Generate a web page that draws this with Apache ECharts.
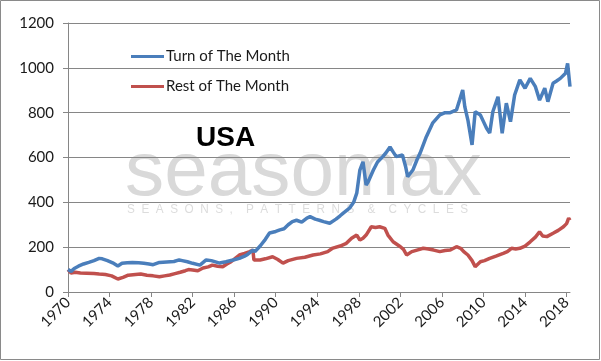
<!DOCTYPE html>
<html>
<head>
<meta charset="utf-8">
<script src="https://cdn.jsdelivr.net/npm/echarts@6/dist/echarts.min.js"></script>
<style>
html,body{margin:0;padding:0;background:#fff;}
#chart{width:601px;height:361px;}
</style>
</head>
<body>
<div id="chart"></div>
<script>
var seriesNames = ['Turn of The Month', 'Rest of The Month'];
var yearTicks = [1970, 1974, 1978, 1982, 1986, 1990, 1994, 1998, 2002, 2006, 2010, 2014, 2018];
var yTicks = [0, 200, 400, 600, 800, 1000, 1200];

var turnYears = [1970.0,1970.3,1970.6,1971.0,1971.5,1972.0,1972.5,1973.0,1973.3,1973.8,1974.3,1974.8,1975.2,1975.7,1976.2,1976.8,1977.3,1977.8,1978.2,1978.8,1979.5,1980.2,1980.7,1981.0,1981.5,1982.0,1982.7,1983.3,1983.8,1984.6,1985.2,1985.9,1986.5,1987.0,1987.2,1987.8,1988.0,1988.5,1989.0,1989.4,1990.0,1990.4,1990.8,1991.2,1991.6,1992.0,1992.5,1993.0,1993.3,1993.8,1994.2,1994.6,1995.2,1995.8,1996.2,1996.5,1997.1,1997.5,1997.8,1998.1,1998.4,1998.7,1998.9,1999.4,1999.8,2000.3,2000.6,2001.0,2001.3,2001.6,2002.2,2002.5,2002.7,2003.2,2003.6,2003.9,2004.5,2005.1,2005.8,2006.3,2006.8,2007.4,2007.7,2008.0,2008.2,2008.5,2008.9,2009.2,2009.7,2010.0,2010.3,2010.6,2010.9,2011.4,2011.8,2012.2,2012.6,2013.0,2013.5,2014.0,2014.5,2015.0,2015.4,2015.9,2016.2,2016.7,2017.0,2017.4,2017.9,2018.1,2018.33];
var turnValues = [100,92,105,115,125,132,140,150,148,140,130,116,128,130,132,130,128,125,122,132,134,136,143,140,135,128,120,143,140,129,135,143,150,160,165,187,180,205,235,263,270,277,282,300,314,320,312,330,336,325,320,314,307,325,340,352,374,400,441,544,581,477,492,544,580,604,620,647,625,604,611,560,514,544,590,620,693,753,790,800,800,812,856,901,827,767,656,804,790,760,730,709,804,871,708,842,760,879,946,909,953,916,856,909,849,931,940,953,976,1020,916];

var restYears = [1970.0,1970.3,1970.7,1971.2,1971.8,1972.5,1973.0,1973.6,1974.2,1974.8,1975.3,1975.8,1976.5,1977.0,1977.6,1978.2,1978.8,1979.3,1979.8,1980.3,1980.8,1981.3,1981.6,1982.0,1982.5,1983.0,1983.5,1983.9,1984.4,1984.9,1985.3,1985.7,1986.1,1986.5,1987.0,1987.5,1987.8,1987.9,1988.5,1989.0,1989.7,1990.2,1990.7,1991.2,1992.0,1992.8,1993.6,1994.3,1995.0,1995.5,1996.2,1996.8,1997.3,1997.8,1998.1,1998.4,1998.7,1999.2,1999.6,2000.0,2000.5,2000.8,2001.3,2002.0,2002.3,2002.6,2003.1,2003.6,2004.2,2004.7,2005.2,2005.8,2006.3,2006.8,2007.4,2007.8,2008.1,2008.5,2008.9,2009.2,2009.7,2010.1,2010.6,2011.2,2011.9,2012.3,2012.7,2013.1,2013.5,2014.0,2014.5,2015.0,2015.4,2015.7,2016.1,2016.7,2017.2,2017.7,2018.0,2018.2,2018.33];
var restValues = [100,85,88,85,84,82,80,78,72,58,65,75,78,80,75,72,68,72,76,82,88,95,100,98,95,107,112,120,115,113,125,135,150,165,172,180,187,143,143,148,157,145,129,140,150,155,165,170,180,196,205,217,240,254,232,240,254,291,288,291,284,254,224,202,190,165,180,187,195,192,187,180,185,187,202,195,180,165,140,113,135,140,150,160,172,180,195,192,195,205,224,245,269,250,247,262,275,291,305,329,320];

function pairs(xs, ys) {
  var out = [];
  for (var i = 0; i < xs.length; i++) out.push([xs[i], ys[i]]);
  return out;
}

var chart = echarts.init(document.getElementById('chart'));
var axisGray = '#868686';
var fontFam = 'Lato, "Liberation Sans", sans-serif';

chart.setOption({
  animation: false,
  backgroundColor: '#fff',
  grid: { left: 68, right: 31, top: 23, bottom: 69, containLabel: false },
  legend: {
    data: seriesNames,
    orient: 'vertical',
    left: 126,
    top: 44,
    icon: 'rect',
    itemWidth: 33,
    itemHeight: 3,
    itemGap: 15,
    textStyle: { fontFamily: fontFam, fontSize: 15, color: '#1a1a1a', padding: [0, 0, 0, -3] }
  },
  xAxis: {
    type: 'value',
    min: 1970,
    max: 2018.33,
    interval: 4,
    axisLine: { lineStyle: { color: axisGray, width: 1 } },
    axisTick: { show: true, length: 5, lineStyle: { color: axisGray }, customValues: yearTicks },
    axisLabel: { rotate: 45, margin: 8, fontFamily: fontFam, fontSize: 15, color: '#1a1a1a', customValues: yearTicks, formatter: function (v) { return String(v); } },
    splitLine: { show: false }
  },
  yAxis: {
    type: 'value',
    min: 0,
    max: 1200,
    interval: 200,
    axisLine: { show: true, lineStyle: { color: axisGray, width: 1 } },
    axisTick: { show: true, length: 5, lineStyle: { color: axisGray } },
    axisLabel: { margin: 14, fontFamily: fontFam, fontSize: 15, color: '#1a1a1a', formatter: function (v) { return String(v); } },
    splitLine: { show: true, lineStyle: { color: axisGray, width: 1 } }
  },
  graphic: [
    { type: 'rect', z: 100, silent: true, shape: { x: 0.5, y: 0.5, width: 599, height: 359 }, style: { fill: 'none', stroke: '#8a8a8a', lineWidth: 1 } },
    { type: 'text', z: -1, silent: true, x: 125, y: 136, scaleX: 0.955, scaleY: 0.92, style: { text: 'seasomax', fontFamily: '"Liberation Sans", Arial, sans-serif', fontSize: 82, fill: '#d9d9d9', textVerticalAlign: 'top' } },
    { type: 'text', z: -1, silent: true, x: 127, y: 204, scaleX: 0.98, style: { text: 'S  E  A  S  O  N  S  ,    P  A  T  T  E  R  N  S    &    C  Y  C  L  E  S', fontFamily: '"Liberation Sans", Arial, sans-serif', fontSize: 12, fill: '#dcdcdc' } },
    { type: 'text', z: 50, silent: true, x: 196, y: 124, style: { text: 'USA', fontFamily: '"Liberation Sans", Arial, sans-serif', fontWeight: 'bold', fontSize: 28, fill: '#000' } }
  ],
  series: [
    { name: seriesNames[0], type: 'line', symbol: 'none', data: pairs(turnYears, turnValues), lineStyle: { color: '#4a7ebb', width: 3.5 }, itemStyle: { color: '#4a7ebb' }, z: 3 },
    { name: seriesNames[1], type: 'line', symbol: 'none', data: pairs(restYears, restValues), lineStyle: { color: '#c0504d', width: 3.5 }, itemStyle: { color: '#c0504d' }, z: 2 }
  ]
});
</script>
</body>
</html>
